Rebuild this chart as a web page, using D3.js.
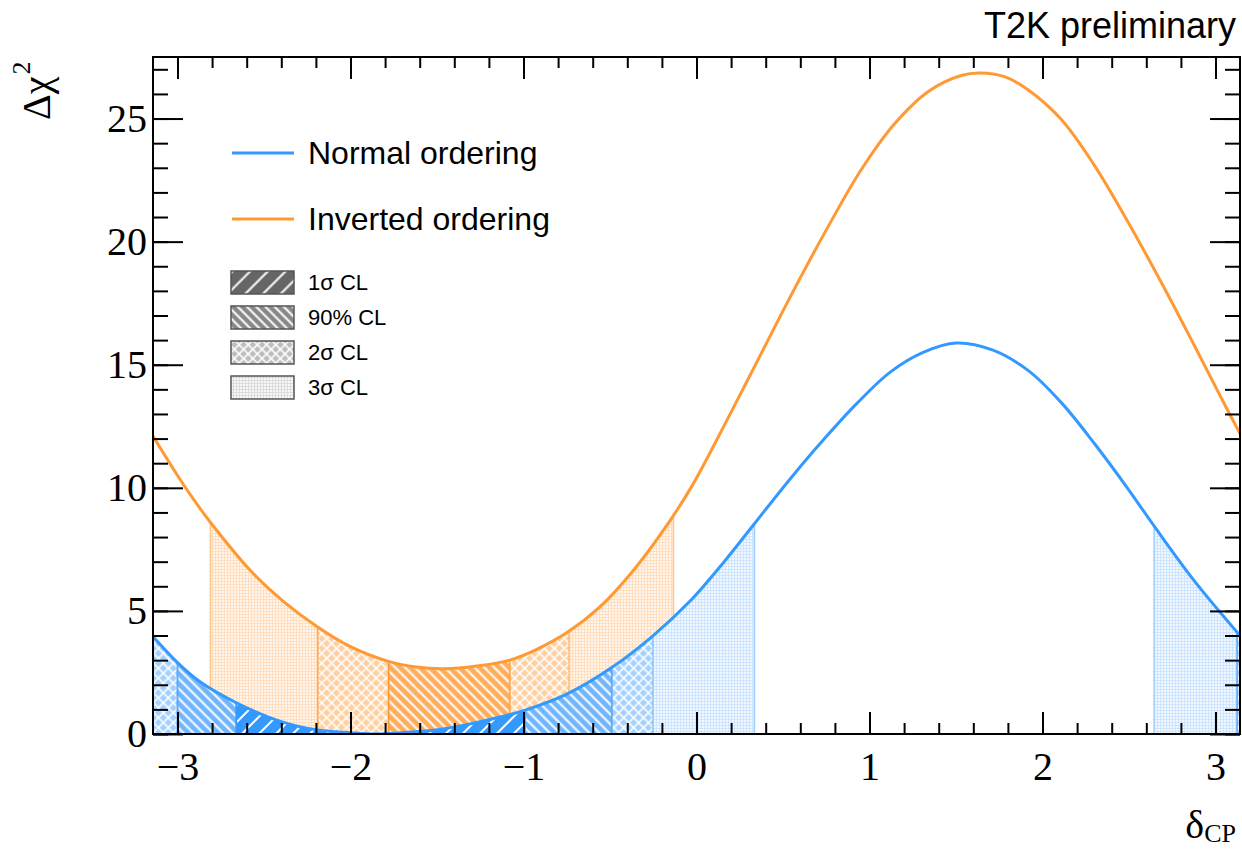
<!DOCTYPE html>
<html>
<head>
<meta charset="utf-8">
<script src="https://cdn.jsdelivr.net/npm/d3@7"></script>
<style>
body { margin: 0; background: #fff; }
</style>
</head>
<body>
<script>
// delta chi2 vs delta_CP
var deltaNO = [-3.1416, -3.0, -2.87, -2.66, -2.40, -2.20, -2.00, -1.85, -1.71, -1.52, -1.33, -1.13, -0.99, -0.75, -0.49, -0.25, -0.03, 0.16, 0.33, 0.54, 0.74, 0.93, 1.12, 1.31, 1.50, 1.71, 1.92, 2.11, 2.30, 2.49, 2.645, 2.88, 3.1416];
var chi2NO = [3.96, 2.9, 2.12, 1.27, 0.5, 0.17, 0.05, 0.0, 0.05, 0.15, 0.38, 0.70, 0.97, 1.62, 2.7, 4.0, 5.45, 7.0, 8.5, 10.35, 12.0, 13.45, 14.7, 15.5, 15.88, 15.6, 14.75, 13.45, 11.8, 10.0, 8.45, 6.2, 4.0];

var deltaIO = [-3.1416, -3.0, -2.91, -2.81, -2.58, -2.39, -2.19, -2.0, -1.78, -1.62, -1.46, -1.27, -1.08, -0.92, -0.74, -0.56, -0.37, -0.15, -0.02, 0.18, 0.37, 0.56, 0.76, 0.95, 1.14, 1.34, 1.53, 1.64, 1.78, 1.92, 2.11, 2.30, 2.49, 2.69, 2.88, 3.07, 3.1416];
var chi2IO = [12.1, 10.5, 9.56, 8.6, 6.65, 5.4, 4.35, 3.55, 2.95, 2.72, 2.65, 2.76, 3.0, 3.45, 4.16, 5.15, 6.6, 8.7, 10.15, 12.8, 15.4, 18.0, 20.6, 22.9, 24.75, 26.1, 26.75, 26.85, 26.7, 26.15, 24.95, 23.1, 20.85, 18.3, 15.75, 13.15, 12.2];

// confidence intervals: [from, to, level]
var regionsNO = [[-3.1416, -3.0, '2s'], [-3.0, -2.66, '90'], [-2.66, -0.99, '1s'], [-0.99, -0.49, '90'],
                 [-0.49, -0.25, '2s'], [-0.25, 0.335, '3s'], [2.645, 3.125, '3s'], [3.125, 3.1416, '2s']];
var regionsIO = [[-2.81, -2.19, '3s'], [-2.19, -1.78, '2s'], [-1.78, -1.08, '90'], [-1.08, -0.735, '2s'], [-0.735, -0.133, '3s']];

var levels = ['1s', '90', '2s', '3s'];
var levelLabels = ['1σ CL', '90% CL', '2σ CL', '3σ CL'];
var seriesLabels = ['Normal ordering', 'Inverted ordering'];
var xTicks = [-3, -2, -1, 0, 1, 2, 3];
var yTicks = [0, 5, 10, 15, 20, 25];

var colNO = '#3399ff', colIO = '#ff9933';

var width = 1242, height = 851;
var x0 = 153, x1 = 1240, yTop = 57, yBot = 734;

var x = d3.scaleLinear().domain([-Math.PI, Math.PI]).range([x0, x1]);
var y = d3.scaleLinear().domain([0, 27.5]).range([yBot, yTop]);

var svg = d3.select('body').append('svg')
    .attr('width', width)
    .attr('height', height);

var defs = svg.append('defs');

function addHatch(id, bg, angle, gap, lw, cross) {
    var p = defs.append('pattern')
        .attr('id', id)
        .attr('patternUnits', 'userSpaceOnUse')
        .attr('width', gap)
        .attr('height', gap)
        .attr('patternTransform', 'rotate(' + angle + ')');
    p.append('rect').attr('width', gap).attr('height', gap).attr('fill', bg);
    p.append('line')
        .attr('x1', gap / 2).attr('x2', gap / 2).attr('y1', 0).attr('y2', gap)
        .attr('stroke', '#fff').attr('stroke-width', lw);
    if (cross) {
        p.append('line')
            .attr('x1', 0).attr('x2', gap).attr('y1', gap / 2).attr('y2', gap / 2)
            .attr('stroke', '#fff').attr('stroke-width', lw);
    }
}

function addDots(id, bg, fg) {
    var p = defs.append('pattern')
        .attr('id', id)
        .attr('patternUnits', 'userSpaceOnUse')
        .attr('width', 3)
        .attr('height', 3);
    p.append('rect').attr('width', 3).attr('height', 3).attr('fill', fg);
    p.append('rect').attr('width', 2).attr('height', 2).attr('fill', bg);
}

// fill patterns per ordering / level
addHatch('NO-1s', '#3399ff', 45, 12, 2, false);
addHatch('NO-90', '#6fb6ff', -45, 7, 2, false);
addHatch('NO-2s', '#a3d0ff', 45, 7, 1.6, true);
addDots('NO-3s', '#f3f8ff', '#cde5ff');
addHatch('IO-90', '#ffad5c', -45, 7, 2, false);
addHatch('IO-2s', '#ffcf9f', 45, 7, 1.6, true);
addDots('IO-3s', '#fff6ed', '#ffdfbf');
addHatch('LG-1s', '#666666', 45, 12.5, 2, false);
addHatch('LG-90', '#888888', -45, 6.5, 2, false);
addHatch('LG-2s', '#bcbcbc', 45, 6.5, 1.6, true);
addDots('LG-3s', '#f8f8f8', '#dcdcdc');

var edge = {
    NO: {'1s': '#3399ff', '90': '#5aabff', '2s': '#5aabff', '3s': '#9fcfff'},
    IO: {'90': '#ff9933', '2s': '#ffa64f', '3s': '#ffc68c'}
};

var area = d3.area()
    .x(function(d) { return x(d[0]); })
    .y0(y(0))
    .y1(function(d) { return y(d[1]); })
    .curve(d3.curveCatmullRom.alpha(0.5));

var line = d3.line()
    .x(function(d) { return x(d[0]); })
    .y(function(d) { return y(d[1]); })
    .curve(d3.curveCatmullRom.alpha(0.5));

var ptsNO = deltaNO.map(function(d, i) { return [d, chi2NO[i]]; });
var ptsIO = deltaIO.map(function(d, i) { return [d, chi2IO[i]]; });

defs.append('clipPath').attr('id', 'clipNO').append('path').attr('d', area(ptsNO));
defs.append('clipPath').attr('id', 'clipIO').append('path').attr('d', area(ptsIO));
defs.append('clipPath').attr('id', 'clipFrame').append('rect')
    .attr('x', x0).attr('y', yTop).attr('width', x1 - x0).attr('height', yBot - yTop);

var plot = svg.append('g').attr('clip-path', 'url(#clipFrame)');

function drawRegions(regions, key) {
    var g = plot.append('g').attr('clip-path', 'url(#clip' + key + ')');
    regions.forEach(function(r) {
        g.append('rect')
            .attr('x', x(r[0]))
            .attr('y', yTop)
            .attr('width', x(r[1]) - x(r[0]))
            .attr('height', yBot - yTop)
            .attr('fill', 'url(#' + key + '-' + r[2] + ')');
    });
    regions.forEach(function(r) {
        [r[0], r[1]].forEach(function(v) {
            g.append('line')
                .attr('x1', x(v)).attr('x2', x(v))
                .attr('y1', yTop).attr('y2', yBot)
                .attr('stroke', edge[key][r[2]])
                .attr('stroke-width', 1.5);
        });
    });
}

drawRegions(regionsIO, 'IO');
drawRegions(regionsNO, 'NO');

plot.append('path')
    .attr('d', line(ptsIO))
    .attr('fill', 'none')
    .attr('stroke', colIO)
    .attr('stroke-width', 3);

plot.append('path')
    .attr('d', line(ptsNO))
    .attr('fill', 'none')
    .attr('stroke', colNO)
    .attr('stroke-width', 3);

// axes, ROOT style ticks on all four sides
var xMinor = d3.range(-3.2, 3.21, 0.2).filter(function(v) { return v > -Math.PI && v < Math.PI; });
var yMinor = d3.range(0, 28, 1);

function styleAxis(g) {
    g.select('.domain').remove();
    g.selectAll('line').attr('stroke', '#000').attr('stroke-width', 2);
    g.attr('font-family', '"Liberation Serif", "Times New Roman", serif')
        .attr('font-size', 40);
    g.selectAll('text').attr('fill', '#000');
}

svg.append('g').attr('transform', 'translate(0,' + yBot + ')')
    .call(d3.axisBottom(x).tickValues(xMinor).tickSize(-11).tickFormat(''))
    .call(styleAxis);
svg.append('g').attr('transform', 'translate(0,' + yBot + ')')
    .call(d3.axisBottom(x).tickValues(xTicks).tickSize(-22).tickPadding(18).tickFormat(d3.format('d')))
    .call(styleAxis);
svg.append('g').attr('transform', 'translate(0,' + yTop + ')')
    .call(d3.axisTop(x).tickValues(xMinor).tickSize(-11).tickFormat(''))
    .call(styleAxis);
svg.append('g').attr('transform', 'translate(0,' + yTop + ')')
    .call(d3.axisTop(x).tickValues(xTicks).tickSize(-22).tickFormat(''))
    .call(styleAxis);

svg.append('g').attr('transform', 'translate(' + x0 + ',0)')
    .call(d3.axisLeft(y).tickValues(yMinor).tickSize(-15).tickFormat(''))
    .call(styleAxis);
svg.append('g').attr('transform', 'translate(' + x0 + ',0)')
    .call(d3.axisLeft(y).tickValues(yTicks).tickSize(-30).tickPadding(6).tickFormat(d3.format('d')))
    .call(styleAxis);
svg.append('g').attr('transform', 'translate(' + x1 + ',0)')
    .call(d3.axisRight(y).tickValues(yMinor).tickSize(-15).tickFormat(''))
    .call(styleAxis);
svg.append('g').attr('transform', 'translate(' + x1 + ',0)')
    .call(d3.axisRight(y).tickValues(yTicks).tickSize(-30).tickFormat(''))
    .call(styleAxis);

svg.append('rect')
    .attr('x', x0).attr('y', yTop)
    .attr('width', x1 - x0).attr('height', yBot - yTop)
    .attr('fill', 'none')
    .attr('stroke', '#000')
    .attr('stroke-width', 2);

// axis titles
var yTitle = svg.append('text')
    .attr('transform', 'translate(50,120)rotate(-90)')
    .attr('font-family', '"Liberation Serif", "Times New Roman", serif')
    .attr('font-size', 40)
    .attr('fill', '#000');
yTitle.append('tspan').text('Δχ');
yTitle.append('tspan').attr('font-size', 26).attr('dy', -20).attr('dx', 2).text('2');

var xTitle = svg.append('text')
    .attr('x', 1236)
    .attr('y', 838)
    .attr('text-anchor', 'end')
    .attr('font-family', '"Liberation Serif", "Times New Roman", serif')
    .attr('font-size', 40)
    .attr('fill', '#000');
xTitle.append('tspan').text('δ');
xTitle.append('tspan').attr('font-size', 26).attr('dy', 4).text('CP');

svg.append('text')
    .attr('x', 1236)
    .attr('y', 38)
    .attr('text-anchor', 'end')
    .attr('font-family', '"Liberation Sans", Arial, sans-serif')
    .attr('font-size', 36)
    .attr('fill', '#000')
    .text('T2K preliminary');

// legend
var legend = svg.append('g')
    .attr('font-family', '"Liberation Sans", Arial, sans-serif')
    .attr('fill', '#000');

[colNO, colIO].forEach(function(c, i) {
    var ly = 153 + i * 66;
    legend.append('line')
        .attr('x1', 232).attr('x2', 294)
        .attr('y1', ly).attr('y2', ly)
        .attr('stroke', c)
        .attr('stroke-width', 3);
    legend.append('text')
        .attr('x', 308)
        .attr('y', ly)
        .attr('dy', '0.35em')
        .attr('font-size', 32)
        .text(seriesLabels[i]);
});

levels.forEach(function(l, i) {
    var by = 271 + i * 35;
    legend.append('rect')
        .attr('x', 231).attr('y', by)
        .attr('width', 63).attr('height', 23)
        .attr('fill', 'url(#LG-' + l + ')')
        .attr('stroke', '#555')
        .attr('stroke-width', 1.5);
    legend.append('text')
        .attr('x', 308)
        .attr('y', by + 11.5)
        .attr('dy', '0.35em')
        .attr('font-size', 22)
        .text(levelLabels[i]);
});
</script>
</body>
</html>
